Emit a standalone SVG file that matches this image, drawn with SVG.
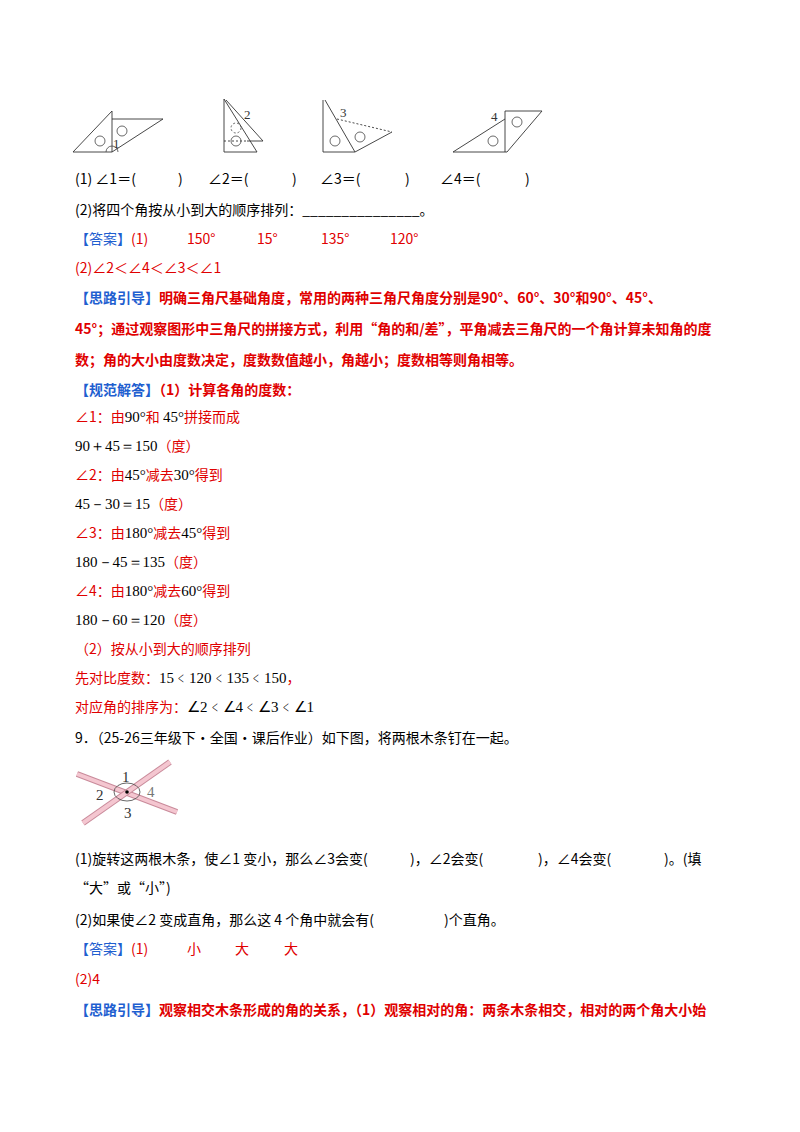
<svg xmlns="http://www.w3.org/2000/svg" width="800" height="1132" viewBox="0 0 800 1132" xml:space="preserve">
<style>
text{font-family:"Noto Sans CJK SC","Noto Sans",sans-serif;font-size:14px;fill:#000;white-space:pre}
.r{fill:#e00000}.b{fill:#1f5fd0}.bd{font-weight:bold}
.n{font-family:"Liberation Serif",serif;font-size:15px}
.k{fill:#000}
.ln{fill:none;stroke:#333;stroke-width:0.9}
.d{stroke-dasharray:2,2}
.c{fill:none;stroke:#444;stroke-width:0.8}
.lb{font-family:"Liberation Serif",serif;font-size:13px;fill:#333}
.stick{stroke:#c98a9a;stroke-width:6;stroke-linecap:butt}
.stk{stroke:#f4c6d0;stroke-width:4}
</style>
<rect width="800" height="1132" fill="#fff"/>
<g id="fig1">
<polygon class="ln" points="73,152 112,111 112,152"/>
<polyline class="ln" points="112,119 163,119 112,152"/>
<circle class="c" cx="100" cy="141" r="5"/><circle class="c" cx="122" cy="131" r="5"/>
<path class="c" d="M106,152 A6,6 0 0 1 118,152"/>
<text class="lb" x="113" y="148">1</text>
</g>
<g id="fig2">
<polygon class="ln" points="224,99 224,152 257,152"/>
<polyline class="ln" points="226,100 263,141 247,141"/>
<line class="ln d" x1="224" y1="141" x2="247" y2="141"/>
<circle class="c d" cx="236" cy="128" r="5"/><circle class="c" cx="236" cy="141" r="5"/>
<text class="lb" x="244" y="119">2</text>
</g>
<g id="fig3">
<polyline class="ln" points="325,100 355,152 323,152 323,100"/>
<line class="ln d" x1="337" y1="119" x2="392" y2="132"/>
<line class="ln" x1="392" y1="132" x2="355" y2="152"/>
<circle class="c" cx="335" cy="141" r="5"/><circle class="c" cx="360" cy="137" r="5"/>
<text class="lb" x="340" y="117">3</text>
</g>
<g id="fig4">
<polygon class="ln" points="453,152 505,119 505,152"/>
<polyline class="ln" points="505,119 505,111 542,111 507,152 505,152"/>
<circle class="c" cx="517" cy="122" r="5"/><circle class="c" cx="493" cy="141" r="5"/>
<text class="lb" x="491" y="121">4</text>
</g>
<text y="184"><tspan x="75">(1) ∠1＝(</tspan><tspan x="178">)</tspan><tspan x="208">∠2＝(</tspan><tspan x="292">)</tspan><tspan x="320">∠3＝(</tspan><tspan x="405">)</tspan><tspan x="440">∠4＝(</tspan><tspan x="525">)</tspan></text>
<text x="75" y="215">(2)将四个角按从小到大的顺序排列：_______________。</text>
<text y="244"><tspan x="75" class="b">【答案】</tspan><tspan class="r">(1)</tspan><tspan x="187" class="r">150°</tspan><tspan x="257" class="r">15°</tspan><tspan x="321" class="r">135°</tspan><tspan x="390" class="r">120°</tspan></text>
<text x="75" y="273" class="r">(2)∠2＜∠4＜∠3＜∠1</text>
<text x="75" y="303" class="bd"><tspan class="b">【思路引导】</tspan><tspan class="r">明确三角尺基础角度，常用的两种三角尺角度分别是90°、60°、30°和90°、45°、</tspan></text>
<text x="75" y="334" class="r bd">45°；通过观察图形中三角尺的拼接方式，利用“角的和/差”，平角减去三角尺的一个角计算未知角的度</text>
<text x="75" y="365" class="r bd">数；角的大小由度数决定，度数数值越小，角越小；度数相等则角相等。</text>
<text x="75" y="395" class="bd"><tspan class="b">【规范解答】</tspan><tspan class="r">（1）计算各角的度数：</tspan></text>
<text x="75" y="422" class="r">∠1：由<tspan class="n k">90°</tspan>和 <tspan class="n k">45°</tspan>拼接而成</text>
<text x="75" y="451"><tspan class="n">90＋45＝150</tspan><tspan class="r">（度）</tspan></text>
<text x="75" y="480" class="r">∠2：由<tspan class="n k">45°</tspan>减去<tspan class="n k">30°</tspan>得到</text>
<text x="75" y="509"><tspan class="n">45－30＝15</tspan><tspan class="r">（度）</tspan></text>
<text x="75" y="538" class="r">∠3：由<tspan class="n k">180°</tspan>减去<tspan class="n k">45°</tspan>得到</text>
<text x="75" y="567"><tspan class="n">180－45＝135</tspan><tspan class="r">（度）</tspan></text>
<text x="75" y="596" class="r">∠4：由<tspan class="n k">180°</tspan>减去<tspan class="n k">60°</tspan>得到</text>
<text x="75" y="625"><tspan class="n">180－60＝120</tspan><tspan class="r">（度）</tspan></text>
<text x="75" y="654" class="r">（2）按从小到大的顺序排列</text>
<text x="75" y="683" class="r">先对比度数：<tspan class="n k">15﹤120﹤135﹤150</tspan>，</text>
<text x="75" y="712" class="r">对应角的排序为：<tspan class="n k">∠2﹤∠4﹤∠3﹤∠1</tspan></text>
<text x="75" y="743">9．（25-26三年级下·全国·课后作业）如下图，将两根木条钉在一起。</text>
<g id="sticks">
<line class="stick" x1="77" y1="774" x2="177" y2="812"/>
<line class="stk" x1="77" y1="774" x2="177" y2="812"/>
<line class="stick" x1="83" y1="823" x2="170" y2="762"/>
<line class="stk" x1="83" y1="823" x2="170" y2="762"/>
<circle cx="127" cy="792" r="1.8" fill="#000"/>
<ellipse class="c" cx="127" cy="792" rx="13" ry="9"/>
<text class="lb" x="122" y="782" style="font-size:15px">1</text>
<text class="lb" x="96" y="800" style="font-size:15px">2</text>
<text class="lb" x="124" y="818" style="font-size:15px">3</text>
<text class="lb" x="147" y="797" style="font-size:15px;fill:#777">4</text>
</g>
<text y="864"><tspan x="75">(1)旋转这两根木条，使∠1 变小，那么∠3会变(</tspan><tspan x="410">)，∠2会变(</tspan><tspan x="538">)，∠4会变(</tspan><tspan x="664">)。(填</tspan></text>
<text x="75" y="893">“大”或“小”)</text>
<text y="925"><tspan x="75">(2)如果使∠2 变成直角，那么这 4 个角中就会有(</tspan><tspan x="444">)个直角。</tspan></text>
<text y="954"><tspan x="75" class="b">【答案】</tspan><tspan class="r">(1)</tspan><tspan x="187" class="r">小</tspan><tspan x="235" class="r">大</tspan><tspan x="284" class="r">大</tspan></text>
<text x="75" y="984" class="r">(2)4</text>
<text x="75" y="1015" class="bd"><tspan class="b">【思路引导】</tspan><tspan class="r">观察相交木条形成的角的关系，（1）观察相对的角：两条木条相交，相对的两个角大小始</tspan></text>
</svg>
